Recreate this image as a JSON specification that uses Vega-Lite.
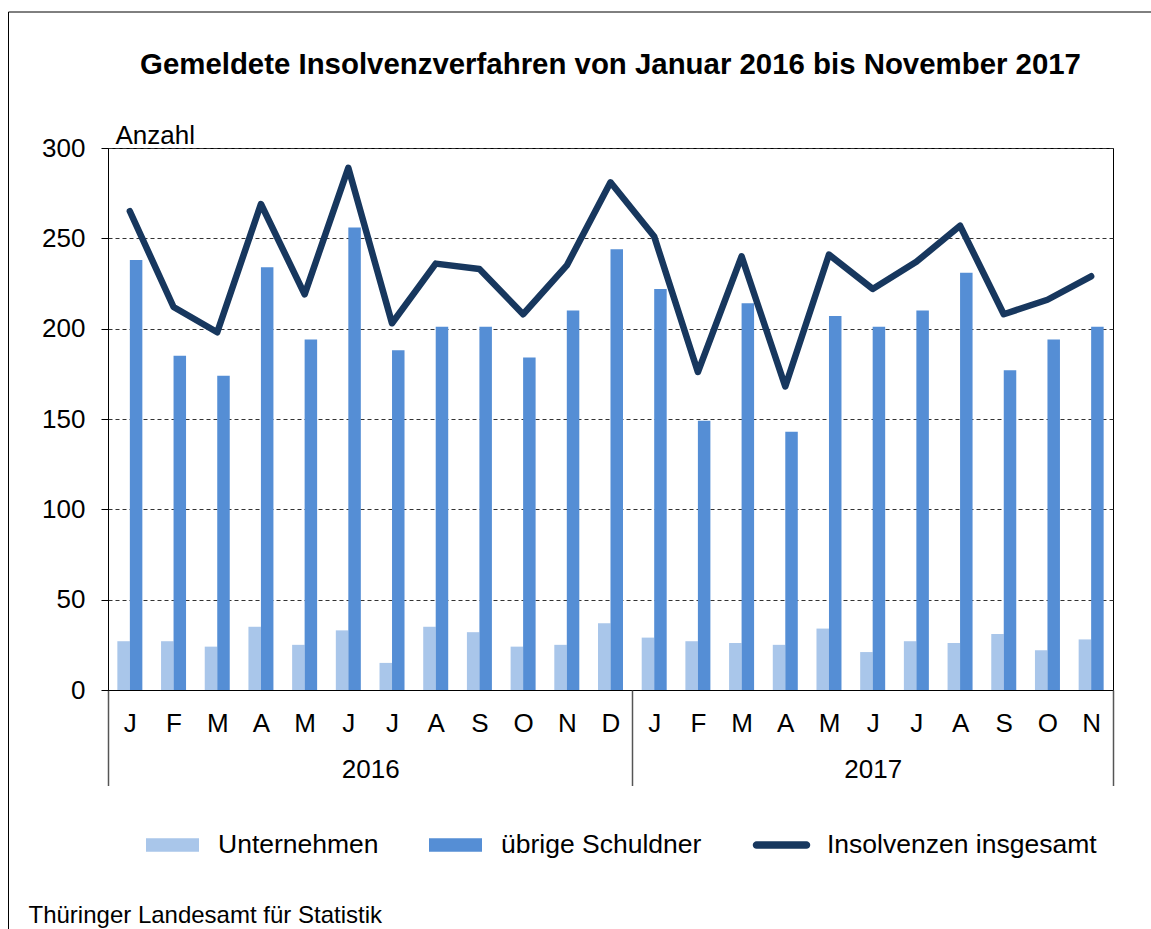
{
  "$schema": "https://vega.github.io/schema/vega-lite/v6.json",
  "width": 1005,
  "height": 542,
  "autosize": {"type": "none"},
  "padding": {"left": 108, "top": 148, "right": 38, "bottom": 239},
  "background": "white",
  "title": {
    "text": "Gemeldete Insolvenzverfahren von Januar 2016 bis November 2017",
    "font": "Liberation Sans",
    "fontSize": 29.4,
    "fontWeight": "bold",
    "color": "#000",
    "anchor": "middle",
    "frame": "group",
    "offset": -69
  },
  "config": {
    "view": {"stroke": "#000", "strokeWidth": 1},
    "font": "Liberation Sans",
    "axis": {"labelFont": "Liberation Sans", "titleFont": "Liberation Sans", "labelColor": "#000", "titleColor": "#000"}
  },
  "datasets": {
    "insolvenzen": [
      {"nr": 1, "monat": "2016-01", "reihe": "Unternehmen", "anzahl": 27},
      {"nr": 2, "monat": "2016-02", "reihe": "Unternehmen", "anzahl": 27},
      {"nr": 3, "monat": "2016-03", "reihe": "Unternehmen", "anzahl": 24},
      {"nr": 4, "monat": "2016-04", "reihe": "Unternehmen", "anzahl": 35},
      {"nr": 5, "monat": "2016-05", "reihe": "Unternehmen", "anzahl": 25},
      {"nr": 6, "monat": "2016-06", "reihe": "Unternehmen", "anzahl": 33},
      {"nr": 7, "monat": "2016-07", "reihe": "Unternehmen", "anzahl": 15},
      {"nr": 8, "monat": "2016-08", "reihe": "Unternehmen", "anzahl": 35},
      {"nr": 9, "monat": "2016-09", "reihe": "Unternehmen", "anzahl": 32},
      {"nr": 10, "monat": "2016-10", "reihe": "Unternehmen", "anzahl": 24},
      {"nr": 11, "monat": "2016-11", "reihe": "Unternehmen", "anzahl": 25},
      {"nr": 12, "monat": "2016-12", "reihe": "Unternehmen", "anzahl": 37},
      {"nr": 13, "monat": "2017-01", "reihe": "Unternehmen", "anzahl": 29},
      {"nr": 14, "monat": "2017-02", "reihe": "Unternehmen", "anzahl": 27},
      {"nr": 15, "monat": "2017-03", "reihe": "Unternehmen", "anzahl": 26},
      {"nr": 16, "monat": "2017-04", "reihe": "Unternehmen", "anzahl": 25},
      {"nr": 17, "monat": "2017-05", "reihe": "Unternehmen", "anzahl": 34},
      {"nr": 18, "monat": "2017-06", "reihe": "Unternehmen", "anzahl": 21},
      {"nr": 19, "monat": "2017-07", "reihe": "Unternehmen", "anzahl": 27},
      {"nr": 20, "monat": "2017-08", "reihe": "Unternehmen", "anzahl": 26},
      {"nr": 21, "monat": "2017-09", "reihe": "Unternehmen", "anzahl": 31},
      {"nr": 22, "monat": "2017-10", "reihe": "Unternehmen", "anzahl": 22},
      {"nr": 23, "monat": "2017-11", "reihe": "Unternehmen", "anzahl": 28},
      {"nr": 1, "monat": "2016-01", "reihe": "übrige Schuldner", "anzahl": 238},
      {"nr": 2, "monat": "2016-02", "reihe": "übrige Schuldner", "anzahl": 185},
      {"nr": 3, "monat": "2016-03", "reihe": "übrige Schuldner", "anzahl": 174},
      {"nr": 4, "monat": "2016-04", "reihe": "übrige Schuldner", "anzahl": 234},
      {"nr": 5, "monat": "2016-05", "reihe": "übrige Schuldner", "anzahl": 194},
      {"nr": 6, "monat": "2016-06", "reihe": "übrige Schuldner", "anzahl": 256},
      {"nr": 7, "monat": "2016-07", "reihe": "übrige Schuldner", "anzahl": 188},
      {"nr": 8, "monat": "2016-08", "reihe": "übrige Schuldner", "anzahl": 201},
      {"nr": 9, "monat": "2016-09", "reihe": "übrige Schuldner", "anzahl": 201},
      {"nr": 10, "monat": "2016-10", "reihe": "übrige Schuldner", "anzahl": 184},
      {"nr": 11, "monat": "2016-11", "reihe": "übrige Schuldner", "anzahl": 210},
      {"nr": 12, "monat": "2016-12", "reihe": "übrige Schuldner", "anzahl": 244},
      {"nr": 13, "monat": "2017-01", "reihe": "übrige Schuldner", "anzahl": 222},
      {"nr": 14, "monat": "2017-02", "reihe": "übrige Schuldner", "anzahl": 149},
      {"nr": 15, "monat": "2017-03", "reihe": "übrige Schuldner", "anzahl": 214},
      {"nr": 16, "monat": "2017-04", "reihe": "übrige Schuldner", "anzahl": 143},
      {"nr": 17, "monat": "2017-05", "reihe": "übrige Schuldner", "anzahl": 207},
      {"nr": 18, "monat": "2017-06", "reihe": "übrige Schuldner", "anzahl": 201},
      {"nr": 19, "monat": "2017-07", "reihe": "übrige Schuldner", "anzahl": 210},
      {"nr": 20, "monat": "2017-08", "reihe": "übrige Schuldner", "anzahl": 231},
      {"nr": 21, "monat": "2017-09", "reihe": "übrige Schuldner", "anzahl": 177},
      {"nr": 22, "monat": "2017-10", "reihe": "übrige Schuldner", "anzahl": 194},
      {"nr": 23, "monat": "2017-11", "reihe": "übrige Schuldner", "anzahl": 201},
      {"nr": 1, "monat": "2016-01", "reihe": "Insolvenzen insgesamt", "anzahl": 265},
      {"nr": 2, "monat": "2016-02", "reihe": "Insolvenzen insgesamt", "anzahl": 212},
      {"nr": 3, "monat": "2016-03", "reihe": "Insolvenzen insgesamt", "anzahl": 198},
      {"nr": 4, "monat": "2016-04", "reihe": "Insolvenzen insgesamt", "anzahl": 269},
      {"nr": 5, "monat": "2016-05", "reihe": "Insolvenzen insgesamt", "anzahl": 219},
      {"nr": 6, "monat": "2016-06", "reihe": "Insolvenzen insgesamt", "anzahl": 289},
      {"nr": 7, "monat": "2016-07", "reihe": "Insolvenzen insgesamt", "anzahl": 203},
      {"nr": 8, "monat": "2016-08", "reihe": "Insolvenzen insgesamt", "anzahl": 236},
      {"nr": 9, "monat": "2016-09", "reihe": "Insolvenzen insgesamt", "anzahl": 233},
      {"nr": 10, "monat": "2016-10", "reihe": "Insolvenzen insgesamt", "anzahl": 208},
      {"nr": 11, "monat": "2016-11", "reihe": "Insolvenzen insgesamt", "anzahl": 235},
      {"nr": 12, "monat": "2016-12", "reihe": "Insolvenzen insgesamt", "anzahl": 281},
      {"nr": 13, "monat": "2017-01", "reihe": "Insolvenzen insgesamt", "anzahl": 251},
      {"nr": 14, "monat": "2017-02", "reihe": "Insolvenzen insgesamt", "anzahl": 176},
      {"nr": 15, "monat": "2017-03", "reihe": "Insolvenzen insgesamt", "anzahl": 240},
      {"nr": 16, "monat": "2017-04", "reihe": "Insolvenzen insgesamt", "anzahl": 168},
      {"nr": 17, "monat": "2017-05", "reihe": "Insolvenzen insgesamt", "anzahl": 241},
      {"nr": 18, "monat": "2017-06", "reihe": "Insolvenzen insgesamt", "anzahl": 222},
      {"nr": 19, "monat": "2017-07", "reihe": "Insolvenzen insgesamt", "anzahl": 237},
      {"nr": 20, "monat": "2017-08", "reihe": "Insolvenzen insgesamt", "anzahl": 257},
      {"nr": 21, "monat": "2017-09", "reihe": "Insolvenzen insgesamt", "anzahl": 208},
      {"nr": 22, "monat": "2017-10", "reihe": "Insolvenzen insgesamt", "anzahl": 216},
      {"nr": 23, "monat": "2017-11", "reihe": "Insolvenzen insgesamt", "anzahl": 229}
    ]
  },
  "data": {"name": "insolvenzen"},
  "layer": [
    {
      "transform": [{"filter": "datum.reihe === 'Unternehmen'"}],
      "mark": {"type": "bar", "width": 12.5, "xOffset": -6.25},
      "encoding": {
        "x": {
          "field": "nr", "type": "quantitative",
          "scale": {"domain": [0.5, 23.5], "nice": false, "zero": false, "padding": 0},
          "axis": {
            "orient": "bottom",
            "values": [1, 2, 3, 4, 5, 6, 7, 8, 9, 10, 11, 12, 13, 14, 15, 16, 17, 18, 19, 20, 21, 22, 23],
            "labelExpr": "substring('JFMAMJJASONDJFMAMJJASON', datum.value - 1, datum.value)",
            "title": null, "grid": false, "ticks": false,
            "domain": true, "domainColor": "#000", "domainWidth": 1,
            "labelFontSize": 26, "labelPadding": 20, "labelBaseline": "top",
            "labelFlush": false, "labelOverlap": false
          }
        },
        "y": {
          "field": "anzahl", "type": "quantitative",
          "scale": {"domain": [0, 300], "nice": false},
          "axis": {
            "values": [0, 50, 100, 150, 200, 250, 300],
            "title": "Anzahl", "titleAngle": 0, "titleAlign": "left", "titleBaseline": "alphabetic",
            "titleX": 7, "titleY": -4.7, "titleFontSize": 26, "titleFontWeight": "normal",
            "labelFontSize": 26, "labelPadding": 16, "tickSize": 7, "tickColor": "#000",
            "domainColor": "#000", "grid": true, "gridDash": [4, 3], "gridColor": "#333333", "gridWidth": 1
          }
        },
        "color": {
          "field": "reihe", "type": "nominal",
          "scale": {"domain": ["Unternehmen", "übrige Schuldner", "Insolvenzen insgesamt"], "range": ["#a9c6ea", "#558ed5", "#17375e"]},
          "legend": {
            "title": null, "orient": "none", "legendX": 38, "legendY": 670.5, "direction": "horizontal",
            "labelFontSize": 26.5, "labelFont": "Liberation Sans", "labelColor": "#000", "labelOffset": 19,
            "columnPadding": 50, "symbolSize": 2809, "symbolStrokeWidth": 0, "padding": 0, "labelLimit": 400,
            "encode": {
              "symbols": {
                "update": {
                  "shape": {"signal": "datum.value === 'Insolvenzen insgesamt' ? 'M-0.94,-0.145L0.94,-0.145A0.145,0.145 0 0 1 0.94,0.145L-0.94,0.145A0.145,0.145 0 0 1 -0.94,-0.145Z' : 'M-1,-0.253L1,-0.253L1,0.253L-1,0.253Z'"},
                  "fill": {"signal": "scale('color', datum.value)"},
                  "opacity": {"value": 1}
                }
              }
            }
          }
        }
      }
    },
    {
      "transform": [{"filter": "datum.reihe === 'übrige Schuldner'"}],
      "mark": {"type": "bar", "width": 12.5, "xOffset": 6.25},
      "encoding": {
        "x": {
          "field": "nr", "type": "quantitative",
          "scale": {"domain": [0.5, 23.5], "nice": false, "zero": false, "padding": 0},
          "axis": {
            "orient": "bottom", "values": [6.5, 18],
            "labelExpr": "datum.value < 12.5 ? '2016' : '2017'",
            "title": null, "grid": false, "ticks": false, "domain": false,
            "labelFontSize": 26, "labelPadding": 66, "labelBaseline": "top",
            "labelFlush": false, "labelOverlap": false
          }
        },
        "y": {
          "field": "anzahl", "type": "quantitative",
          "scale": {"domain": [0, 300], "nice": false},
          "axis": {
            "values": [0, 50, 100, 150, 200, 250, 300],
            "title": "Anzahl", "titleAngle": 0, "titleAlign": "left", "titleBaseline": "alphabetic",
            "titleX": 7, "titleY": -4.7, "titleFontSize": 26, "titleFontWeight": "normal",
            "labelFontSize": 26, "labelPadding": 16, "tickSize": 7, "tickColor": "#000",
            "domainColor": "#000", "grid": true, "gridDash": [4, 3], "gridColor": "#333333", "gridWidth": 1
          }
        },
        "color": {
          "field": "reihe", "type": "nominal",
          "scale": {"domain": ["Unternehmen", "übrige Schuldner", "Insolvenzen insgesamt"], "range": ["#a9c6ea", "#558ed5", "#17375e"]}
        }
      }
    },
    {
      "transform": [{"filter": "datum.reihe === 'Insolvenzen insgesamt'"}],
      "mark": {"type": "line", "color": "#17375e", "strokeWidth": 6.5, "strokeJoin": "round", "strokeCap": "round"},
      "encoding": {
        "x": {
          "field": "nr", "type": "quantitative",
          "scale": {"domain": [0.5, 23.5], "nice": false, "zero": false, "padding": 0},
          "axis": {
            "orient": "bottom", "values": [0.5, 12.5, 23.5],
            "labels": false, "grid": false, "domain": false,
            "ticks": true, "tickSize": 95.5, "tickColor": "#555555", "tickWidth": 1.5,
            "title": "Thüringer Landesamt für Statistik",
            "titleX": -80, "titleY": 232.7, "titleAlign": "left", "titleBaseline": "alphabetic",
            "titleFontSize": 24, "titleFontWeight": "normal"
          }
        },
        "y": {
          "field": "anzahl", "type": "quantitative",
          "scale": {"domain": [0, 300], "nice": false},
          "axis": {
            "values": [0, 50, 100, 150, 200, 250, 300],
            "title": "Anzahl", "titleAngle": 0, "titleAlign": "left", "titleBaseline": "alphabetic",
            "titleX": 7, "titleY": -4.7, "titleFontSize": 26, "titleFontWeight": "normal",
            "labelFontSize": 26, "labelPadding": 16, "tickSize": 7, "tickColor": "#000",
            "domainColor": "#000", "grid": true, "gridDash": [4, 3], "gridColor": "#333333", "gridWidth": 1
          }
        },
        "opacity": {
          "datum": "Rahmen", "type": "ordinal",
          "scale": {"range": [1]},
          "legend": {
            "orient": "none", "legendX": -100, "legendY": -136.5, "padding": 1500,
            "strokeColor": "#000", "title": null, "labelExpr": "''", "symbolOpacity": 0,
            "encode": {"legend": {"update": {"strokeWidth": {"value": 1.3}}}}
          }
        }
      }
    }
  ],
  "resolve": {"axis": {"x": "independent"}}
}
